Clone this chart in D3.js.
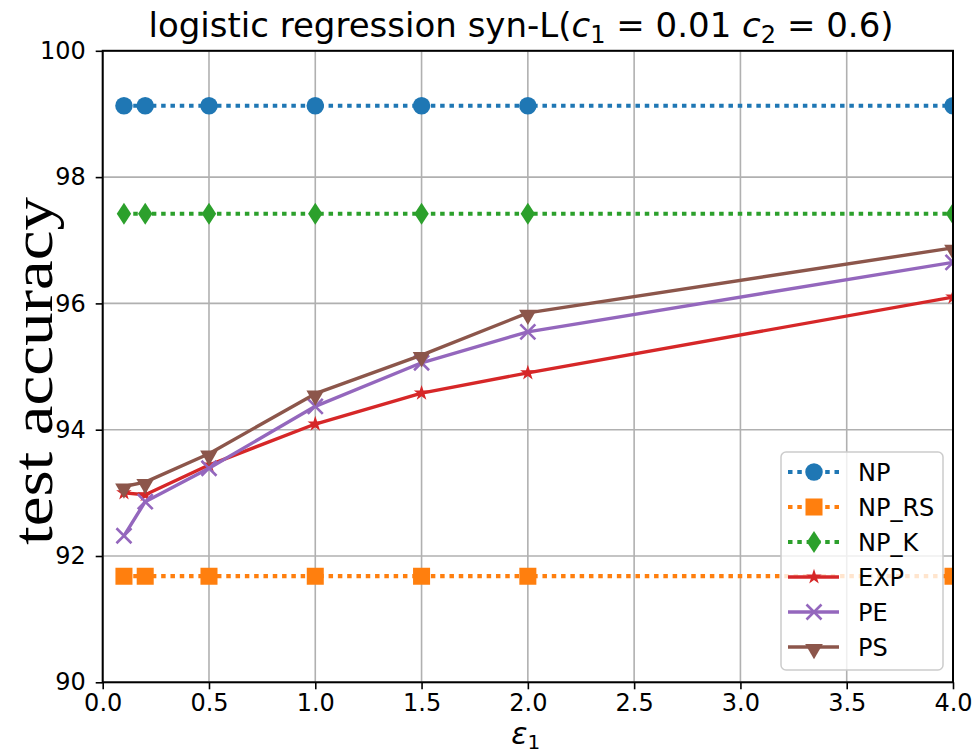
<!DOCTYPE html>
<meta charset="utf-8">
<style>
  body { margin: 0; background: #fff; }
  text { font-family: "DejaVu Sans", sans-serif; fill: #000; }
  .tick text { font-size: 24px; }
</style>
<svg width="975" height="756"></svg>
<script src="https://cdn.jsdelivr.net/npm/d3@7"></script>
<script>
// epsilon_1 values along the x axis
var eps = [0.1, 0.2, 0.5, 1.0, 1.5, 2.0, 4.0];

var names = ["NP", "NP_RS", "NP_K", "EXP", "PE", "PS"];
var colors = ["#1f77b4", "#ff7f0e", "#2ca02c", "#d62728", "#9467bd", "#8c564b"];

var npVals   = [99.13, 99.13, 99.13, 99.13, 99.13, 99.13, 99.13];
var npRsVals = [91.68, 91.68, 91.68, 91.68, 91.68, 91.68, 91.68];
var npKVals  = [97.42, 97.42, 97.42, 97.42, 97.42, 97.42, 97.42];
var expVals  = [93.00, 92.97, 93.44, 94.09, 94.58, 94.90, 96.10];
var peVals   = [92.32, 92.86, 93.39, 94.37, 95.06, 95.55, 96.65];
var psVals   = [93.10, 93.17, 93.62, 94.57, 95.18, 95.85, 96.88];

var xTicks = [0, 0.5, 1, 1.5, 2, 2.5, 3, 3.5, 4];
var yTicks = [90, 92, 94, 96, 98, 100];

var series = [
  {name: names[0], vals: npVals,   color: colors[0], dotted: true,  marker: "circle"},
  {name: names[1], vals: npRsVals, color: colors[1], dotted: true,  marker: "square"},
  {name: names[2], vals: npKVals,  color: colors[2], dotted: true,  marker: "thin_diamond"},
  {name: names[3], vals: expVals,  color: colors[3], dotted: false, marker: "star"},
  {name: names[4], vals: peVals,   color: colors[4], dotted: false, marker: "x"},
  {name: names[5], vals: psVals,   color: colors[5], dotted: false, marker: "tri_down"}
];

var svg = d3.select("svg"),
    margin = {top: 50.8, right: 22, bottom: 73.7, left: 102.7},
    width = +svg.attr("width") - margin.left - margin.right,
    height = +svg.attr("height") - margin.top - margin.bottom;

var x = d3.scaleLinear().domain([0, 4]).range([0, width]);
var y = d3.scaleLinear().domain([90, 100]).range([height, 0]);

var g = svg.append("g").attr("transform", "translate(" + margin.left + "," + margin.top + ")");

svg.append("defs").append("clipPath").attr("id", "plotclip")
  .append("rect").attr("x", 0).attr("y", 0).attr("width", width).attr("height", height);

// grid
g.append("g").selectAll("line").data(xTicks).enter().append("line")
  .attr("x1", d => x(d)).attr("x2", d => x(d))
  .attr("y1", 0).attr("y2", height)
  .attr("stroke", "#b0b0b0").attr("stroke-width", 1.6);
g.append("g").selectAll("line").data(yTicks).enter().append("line")
  .attr("y1", d => y(d)).attr("y2", d => y(d))
  .attr("x1", 0).attr("x2", width)
  .attr("stroke", "#b0b0b0").attr("stroke-width", 1.6);

function markerPath(type) {
  if (type == "circle") return d3.symbol(d3.symbolCircle, 240)();
  if (type == "square") return d3.symbol(d3.symbolSquare, 290)();
  if (type == "star") return d3.symbol(d3.symbolStar, 75)();
  if (type == "tri_down") return d3.symbol(d3.symbolTriangle, 135)();
  if (type == "thin_diamond") return "M0,-11L7.2,0L0,11L-7.2,0Z";
  if (type == "x") return "M-7.5,-7.5L7.5,7.5M-7.5,7.5L7.5,-7.5";
}

function drawMarker(sel, type, color) {
  var p = sel.append("path").attr("d", markerPath(type));
  if (type == "x") {
    p.attr("fill", "none").attr("stroke", color).attr("stroke-width", 2.6);
  } else {
    p.attr("fill", color);
  }
  if (type == "tri_down") p.attr("transform", "rotate(180) translate(0,-2)");
  return p;
}

var plot = g.append("g").attr("clip-path", "url(#plotclip)");

var line = d3.line().x(d => x(d[0])).y(d => y(d[1]));

series.forEach(function(s) {
  var pts = eps.map((e, i) => [e, s.vals[i]]);
  var sg = plot.append("g");
  sg.append("path").datum(pts)
    .attr("d", line)
    .attr("fill", "none")
    .attr("stroke", s.color)
    .attr("stroke-width", s.dotted ? 4.2 : 3.4)
    .attr("stroke-dasharray", s.dotted ? "4.5,4.8" : null)
    .attr("stroke-linejoin", "round");
  pts.forEach(function(p) {
    var mg = sg.append("g").attr("transform", "translate(" + x(p[0]) + "," + y(p[1]) + ")");
    drawMarker(mg, s.marker, s.color);
  });
});

// axes
var xAxis = g.append("g").attr("transform", "translate(0," + height + ")")
  .call(d3.axisBottom(x).tickValues(xTicks).tickFormat(d3.format(".1f")).tickSize(7).tickPadding(5));
var yAxis = g.append("g")
  .call(d3.axisLeft(y).tickValues(yTicks).tickSize(7).tickPadding(10));
xAxis.select(".domain").remove();
yAxis.select(".domain").remove();
g.selectAll(".tick line").attr("stroke", "#000").attr("stroke-width", 1.6);
g.selectAll(".tick text").style("font-family", "DejaVu Sans");

// frame
g.append("rect").attr("width", width).attr("height", height)
  .attr("fill", "none").attr("stroke", "#000").attr("stroke-width", 2);

// title
var title = svg.append("text")
  .attr("x", 521).attr("y", 37)
  .attr("text-anchor", "middle")
  .style("font-size", "34px");
title.append("tspan").text("logistic regression syn-L(");
title.append("tspan").style("font-style", "italic").text("c");
title.append("tspan").attr("dy", 6).style("font-size", "24px").text("1");
title.append("tspan").attr("dy", -6).text(" = 0.01 ");
title.append("tspan").style("font-style", "italic").text("c");
title.append("tspan").attr("dy", 6).style("font-size", "24px").text("2");
title.append("tspan").attr("dy", -6).text(" = 0.6)");

// axis labels
var xl = svg.append("text")
  .attr("x", margin.left + width / 2 - 2).attr("y", 744)
  .attr("text-anchor", "middle")
  .style("font-size", "30px");
xl.append("tspan").style("font-style", "italic").text("ε");
xl.append("tspan").attr("dy", 5).style("font-size", "20px").text("1");

svg.append("text")
  .attr("transform", "translate(52,371) rotate(-90)")
  .attr("text-anchor", "middle")
  .attr("textLength", 348)
  .attr("lengthAdjust", "spacingAndGlyphs")
  .style("font-family", "Liberation Serif, serif")
  .style("font-size", "56px")
  .text("test accuracy");

// legend
var lg = g.append("g").attr("transform", "translate(" + (781 - margin.left) + "," + (452 - margin.top) + ")");
lg.append("rect")
  .attr("width", 162).attr("height", 218).attr("rx", 5)
  .attr("fill", "#fff").attr("fill-opacity", 0.8)
  .attr("stroke", "#cccccc").attr("stroke-width", 1.5);

series.forEach(function(s, i) {
  var ey = 20 + i * 35;
  var row = lg.append("g").attr("transform", "translate(0," + ey + ")");
  row.append("line")
    .attr("x1", 7).attr("x2", 58)
    .attr("stroke", s.color)
    .attr("stroke-width", s.dotted ? 4.2 : 3.4)
    .attr("stroke-dasharray", s.dotted ? "4.5,4.8" : null);
  var mg = row.append("g").attr("transform", "translate(33,0)");
  drawMarker(mg, s.marker, s.color);
  row.append("text")
    .attr("x", 77).attr("dy", "0.36em")
    .style("font-size", "24px")
    .text(s.name);
});
</script>
